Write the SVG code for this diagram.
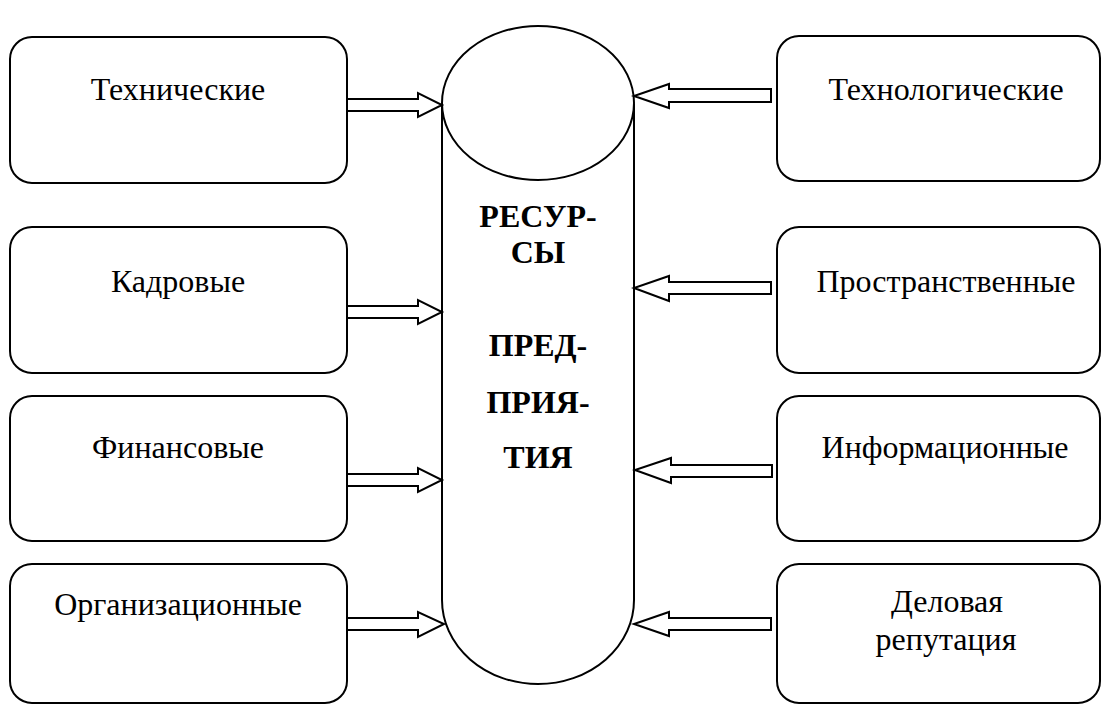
<svg xmlns="http://www.w3.org/2000/svg" width="1102" height="704" viewBox="0 0 1102 704">
<style>
.box{fill:#fff;stroke:#000;stroke-width:2}
.shape{fill:#fff;stroke:#000;stroke-width:2}
.arr{fill:#fff;stroke:#000;stroke-width:2;stroke-linejoin:miter}
.t{font-family:"Liberation Serif","Times New Roman","DejaVu Serif",serif;font-size:32px;fill:#000;text-anchor:middle}
.b{font-family:"Liberation Serif","Times New Roman","DejaVu Serif",serif;font-size:32px;font-weight:bold;fill:#000;text-anchor:middle}
</style>
<rect width="1102" height="704" fill="#fff"/>
<g id="center">
<path class="shape" d="M442,104 L442,600 A96,84 0 0 0 634,600 L634,104"/>
<ellipse class="shape" cx="538" cy="103" rx="96" ry="77"/>
<text class="b" x="538" y="227">РЕСУР-</text>
<text class="b" x="538" y="263">СЫ</text>
<text class="b" x="538" y="356">ПРЕД-</text>
<text class="b" x="538" y="413">ПРИЯ-</text>
<text class="b" x="538" y="468">ТИЯ</text>
</g>
<g id="connectors">
<path class="arr" d="M347,99 L418,99 L418,93 L442,105 L418,117 L418,111 L347,111"/>
<path class="arr" d="M347,306 L418,306 L418,300 L442,312 L418,324 L418,318 L347,318"/>
<path class="arr" d="M347,474 L418,474 L418,468 L442,480 L418,492 L418,486 L347,486"/>
<path class="arr" d="M347,618 L418,618 L418,612 L444,624 L418,637 L418,630 L347,630"/>
<path class="arr" d="M771,89 L669,89 L669,84 L634,96 L669,108 L669,102 L771,102 Z"/>
<path class="arr" d="M771,282 L669,282 L669,276 L634,288 L669,301 L669,294 L771,294 Z"/>
<path class="arr" d="M772,465 L671,465 L671,458 L635,470 L671,483 L671,477 L772,477 Z"/>
<path class="arr" d="M771,618 L669,618 L669,612 L634,624 L669,636 L669,630 L771,630 Z"/>
</g>
<g id="n-tech">
<rect class="box" x="10" y="37" width="337" height="146" rx="22"/>
<text class="t" x="178" y="100">Технические</text>
</g>
<g id="n-kadr">
<rect class="box" x="10" y="227" width="337" height="146" rx="22"/>
<text class="t" x="178" y="292">Кадровые</text>
</g>
<g id="n-fin">
<rect class="box" x="10" y="396" width="337" height="145" rx="22"/>
<text class="t" x="178" y="458">Финансовые</text>
</g>
<g id="n-org">
<rect class="box" x="10" y="564" width="337" height="139" rx="22"/>
<text class="t" x="178" y="615">Организационные</text>
</g>
<g id="n-techn">
<rect class="box" x="777" y="36" width="323" height="145" rx="22"/>
<text class="t" x="946" y="100">Технологические</text>
</g>
<g id="n-prostr">
<rect class="box" x="777" y="227" width="323" height="146" rx="22"/>
<text class="t" x="946" y="292">Пространственные</text>
</g>
<g id="n-inf">
<rect class="box" x="777" y="396" width="323" height="145" rx="22"/>
<text class="t" x="945" y="458">Информационные</text>
</g>
<g id="n-rep">
<rect class="box" x="777" y="564" width="323" height="139" rx="22"/>
<text class="t" x="947" y="612">Деловая</text>
<text class="t" x="946" y="650">репутация</text>
</g>
</svg>
